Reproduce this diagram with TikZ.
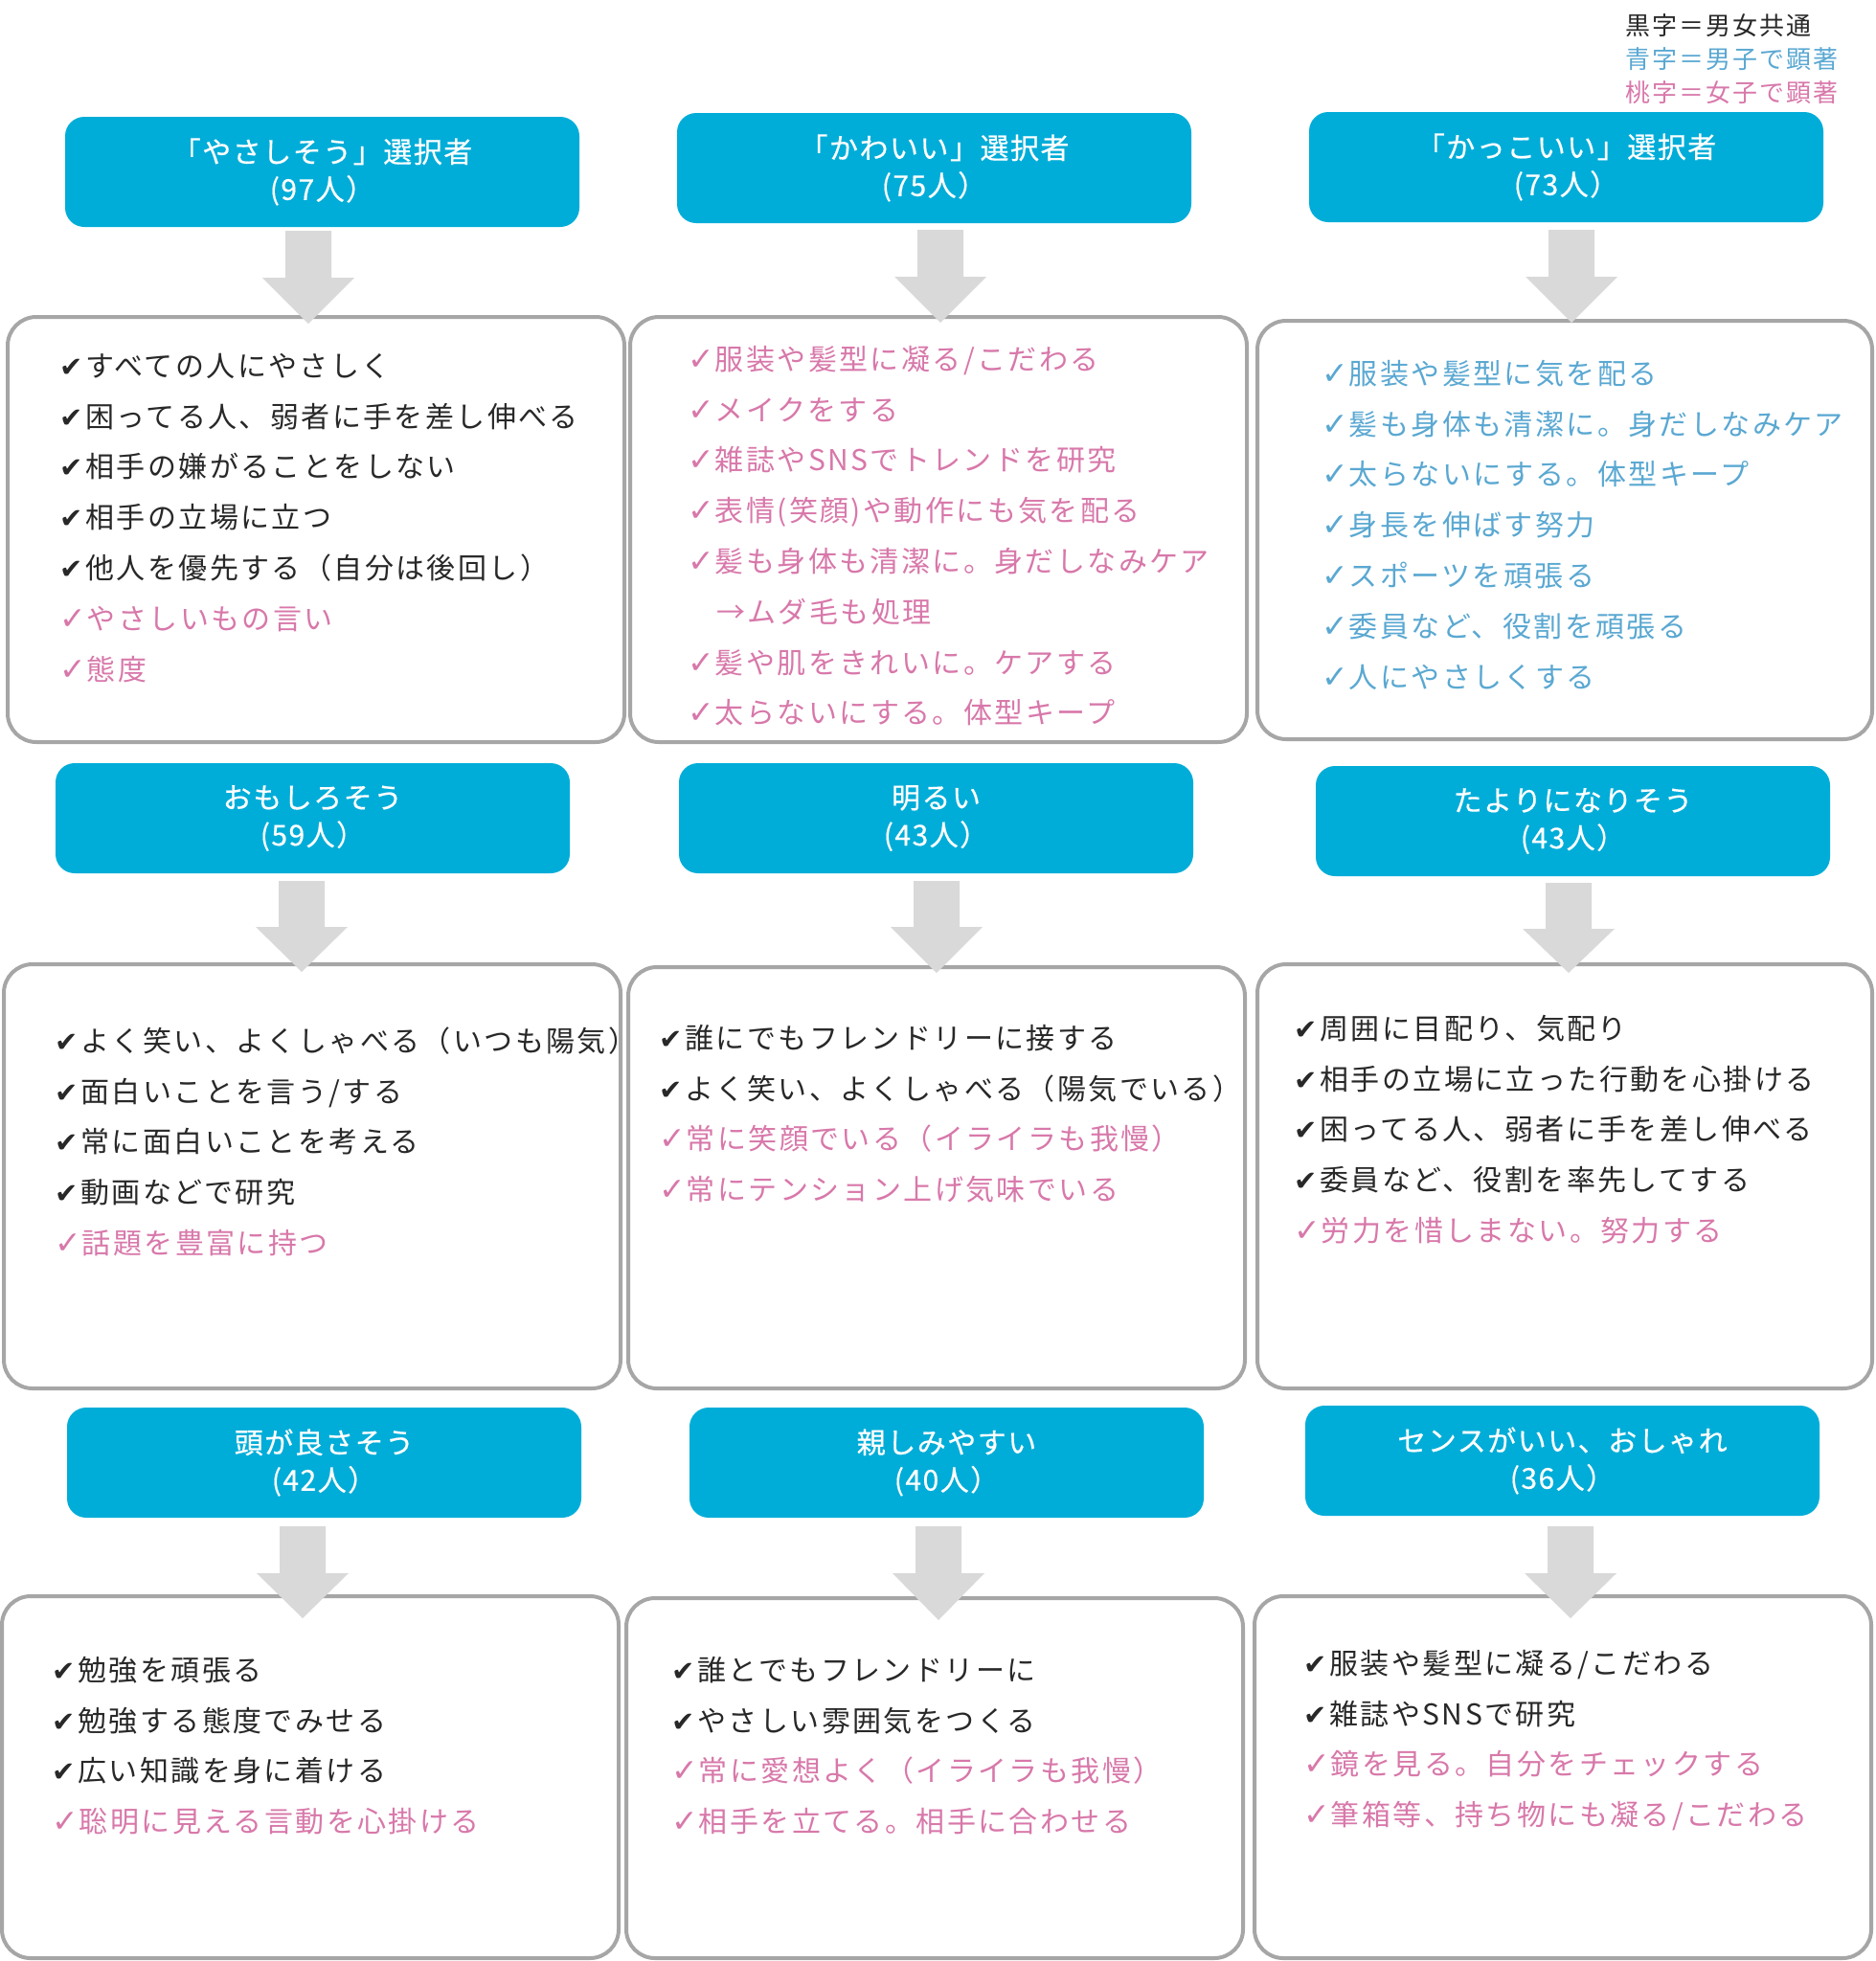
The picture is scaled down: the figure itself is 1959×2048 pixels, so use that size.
\documentclass[tikz,border=0pt]{standalone}
\usepackage{fontspec}
\setmainfont{Noto Sans CJK JP}
\newfontfamily\jpbody[LetterSpace=8]{Noto Sans CJK JP}
\newfontfamily\jphead[LetterSpace=5,FakeBold=0.5]{Noto Sans CJK JP}
\newfontfamily\jpleg[LetterSpace=8]{Noto Sans CJK JP}
\newfontfamily\symfont{DejaVu Sans}
\definecolor{hdrc}{RGB}{0,173,216}
\definecolor{txtk}{RGB}{40,40,40}
\definecolor{txtp}{RGB}{216,120,170}
\definecolor{txtb}{RGB}{90,168,210}
\definecolor{bordc}{RGB}{166,166,166}
\definecolor{arrc}{RGB}{217,217,217}
\newcommand\ckh{{\symfont\fontsize{29}{29}\selectfont ✔}\hspace{3pt}}
\newcommand\ck{{\symfont\fontsize{33}{33}\selectfont ✓}\hspace{1pt}}
\newcommand\rk[1]{\textcolor{txtk}{\ckh#1}}
\newcommand\rp[1]{\textcolor{txtp}{\ck#1}}
\newcommand\rb[1]{\textcolor{txtb}{\ck#1}}
\newcommand\fstrut{\rule{0pt}{26pt}}
\newcommand\dnarrow[4]{\fill[arrc] (#1-24,#2) -- (#1+24,#2) -- (#1+24,#3) -- (#1+48,#3) -- (#1,#4) -- (#1-48,#3) -- (#1-24,#3) -- cycle;}
\begin{document}
\begin{tikzpicture}[x=1pt,y=-1pt,
  hdr/.style={fill=hdrc, rounded corners=20pt, minimum width=537pt, minimum height=115pt,
    text=white, align=center, inner sep=0pt, font=\jphead\fontsize{30}{39}\selectfont},
  cbox/.style={draw=bordc, line width=4pt, fill=white, rounded corners=30pt, inner sep=0pt},
  body/.style={anchor=north west, inner sep=0pt, align=left, font=\jpbody\fontsize{30}{52.8}\selectfont},
  legend/.style={anchor=north west, inner sep=0pt, align=left, font=\jpleg\fontsize{26}{35}\selectfont}]
\useasboundingbox (0,0) rectangle (1959,2048);

% legend
\node[legend] (leg) at (1697,14) {\rule{0pt}{22pt}\textcolor{txtk}{黒字＝男女共通}\\\textcolor{txtb}{青字＝男子で顕著}\\\textcolor{txtp}{桃字＝女子で顕著}};

% headers
\node[hdr] (h1) at (336.5,179.5) {「やさしそう」選択者\\(97人）};
\node[hdr] (h2) at (975.5,175.5) {「かわいい」選択者\\(75人）};
\node[hdr] (h3) at (1635.5,174.5) {「かっこいい」選択者\\(73人）};
\node[hdr] (h4) at (326.5,854.5) {おもしろそう\\(59人）};
\node[hdr] (h5) at (977.5,854.5) {明るい\\(43人）};
\node[hdr] (h6) at (1642.5,857.5) {たよりになりそう\\(43人）};
\node[hdr] (h7) at (338.5,1527.5) {頭が良さそう\\(42人）};
\node[hdr] (h8) at (988.5,1527.5) {親しみやすい\\(40人）};
\node[hdr] (h9) at (1631.5,1525.5) {センスがいい、おしゃれ\\(36人）};

% content boxes
\node[cbox, minimum width=644pt, minimum height=444pt] (c1) at (330,553) {};
\node[cbox, minimum width=644pt, minimum height=444pt] (c2) at (980,553) {};
\node[cbox, minimum width=642pt, minimum height=437pt] (c3) at (1634,553.5) {};
\node[cbox, minimum width=644pt, minimum height=443pt] (c4) at (326,1228.5) {};
\node[cbox, minimum width=644pt, minimum height=440pt] (c5) at (978,1230) {};
\node[cbox, minimum width=642pt, minimum height=443pt] (c6) at (1634,1228.5) {};
\node[cbox, minimum width=644pt, minimum height=378pt] (c7) at (324,1856) {};
\node[cbox, minimum width=644pt, minimum height=376pt] (c8) at (976,1857) {};
\node[cbox, minimum width=644pt, minimum height=378pt] (c9) at (1632,1856) {};

% arrows
\dnarrow{322}{241}{290}{338}
\dnarrow{982}{240}{289}{337}
\dnarrow{1641}{240}{289}{337}
\dnarrow{315}{920}{968}{1015}
\dnarrow{978}{920}{968}{1016}
\dnarrow{1638}{922}{970}{1016}
\dnarrow{316}{1594}{1643}{1690}
\dnarrow{980}{1594}{1643}{1692}
\dnarrow{1640}{1594}{1643}{1690}

% texts
\node[body] (t1) at (62,367) {\fstrut\rk{すべての人にやさしく}\\
\rk{困ってる人、弱者に手を差し伸べる}\\
\rk{相手の嫌がることをしない}\\
\rk{相手の立場に立つ}\\
\rk{他人を優先する（自分は後回し）}\\
\rp{やさしいもの言い}\\
\rp{態度}};

\node[body] (t2) at (718,360) {\fstrut\rp{服装や髪型に凝る/こだわる}\\
\rp{メイクをする}\\
\rp{雑誌やSNSでトレンドを研究}\\
\rp{表情(笑顔)や動作にも気を配る}\\
\rp{髪も身体も清潔に。身だしなみケア}\\
\textcolor{txtp}{\hspace*{30pt}→ムダ毛も処理}\\
\rp{髪や肌をきれいに。ケアする}\\
\rp{太らないにする。体型キープ}};

\node[body] (t3) at (1380,375) {\fstrut\rb{服装や髪型に気を配る}\\
\rb{髪も身体も清潔に。身だしなみケア}\\
\rb{太らないにする。体型キープ}\\
\rb{身長を伸ばす努力}\\
\rb{スポーツを頑張る}\\
\rb{委員など、役割を頑張る}\\
\rb{人にやさしくする}};

\node[body] (t4) at (57,1072) {\fstrut\rk{よく笑い、よくしゃべる（いつも陽気）}\\
\rk{面白いことを言う/する}\\
\rk{常に面白いことを考える}\\
\rk{動画などで研究}\\
\rp{話題を豊富に持つ}};

\node[body] (t5) at (688,1069) {\fstrut\rk{誰にでもフレンドリーに接する}\\
\rk{よく笑い、よくしゃべる（陽気でいる）}\\
\rp{常に笑顔でいる（イライラも我慢）}\\
\rp{常にテンション上げ気味でいる}};

\node[body] (t6) at (1351,1059) {\fstrut\rk{周囲に目配り、気配り}\\
\rk{相手の立場に立った行動を心掛ける}\\
\rk{困ってる人、弱者に手を差し伸べる}\\
\rk{委員など、役割を率先してする}\\
\rp{労力を惜しまない。努力する}};

\node[body] (t7) at (54,1729) {\fstrut\rk{勉強を頑張る}\\
\rk{勉強する態度でみせる}\\
\rk{広い知識を身に着ける}\\
\rp{聡明に見える言動を心掛ける}};

\node[body] (t8) at (701,1729) {\fstrut\rk{誰とでもフレンドリーに}\\
\rk{やさしい雰囲気をつくる}\\
\rp{常に愛想よく（イライラも我慢）}\\
\rp{相手を立てる。相手に合わせる}};

\node[body] (t9) at (1361,1722) {\fstrut\rk{服装や髪型に凝る/こだわる}\\
\rk{雑誌やSNSで研究}\\
\rp{鏡を見る。自分をチェックする}\\
\rp{筆箱等、持ち物にも凝る/こだわる}};
\end{tikzpicture}
\end{document}
